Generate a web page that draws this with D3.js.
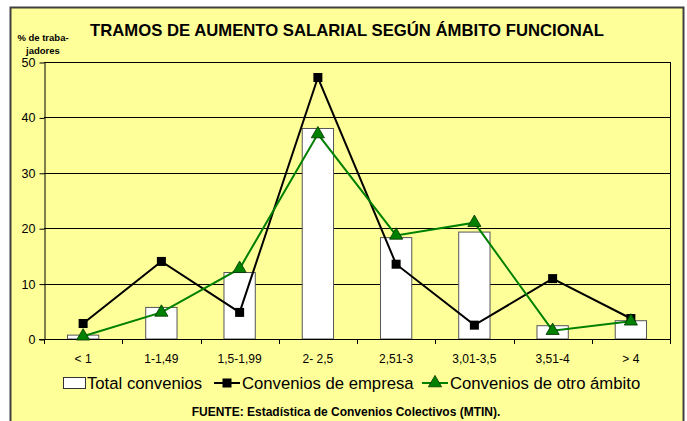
<!DOCTYPE html>
<html>
<head>
<meta charset="utf-8">
<script src="https://cdn.jsdelivr.net/npm/d3@7"></script>
<style>
  body { margin: 0; background: #fff; }
  svg { font-family: "Liberation Sans", Arial, sans-serif; }
  .narrow { font-family: "Liberation Sans Narrow", "Arial Narrow", "Liberation Sans", sans-serif; }
</style>
</head>
<body>
<svg width="687" height="421"></svg>
<script>
// data
var categories = ['< 1', '1-1,49', '1,5-1,99', '2- 2,5', '2,51-3', '3,01-3,5', '3,51-4', '> 4']
var totalConvenios = [0.7, 5.7, 12.0, 38.0, 18.3, 19.3, 2.4, 3.3]
var conveniosEmpresa = [2.8, 14.0, 4.8, 47.2, 13.5, 2.5, 10.9, 3.7]
var conveniosOtro = [0.5, 4.8, 12.7, 37.0, 18.7, 21.0, 1.5, 3.2]
var yTicks = [0, 10, 20, 30, 40, 50]
var seriesNames = ['Total convenios', 'Convenios de empresa', 'Convenios de otro ámbito']

var svg = d3.select('svg')
var plotLeft = 44, plotRight = 670, plotTop = 62, plotBottom = 339

// outer frame
svg.append('rect')
    .attr('x', 10.5).attr('y', 7.5)
    .attr('width', 673).attr('height', 430)
    .attr('fill', '#ffff99')
    .attr('stroke', '#404040')
    .attr('stroke-width', 2)

var xScale = d3.scaleBand()
    .domain(categories)
    .range([plotLeft, plotRight])

var yScale = d3.scaleLinear()
    .domain([0, 50])
    .range([plotBottom, plotTop])

// gridlines
svg.append('g')
    .selectAll('line')
    .data(yTicks.slice(1))
    .enter()
    .append('line')
        .attr('x1', plotLeft).attr('x2', plotRight)
        .attr('y1', d => Math.round(yScale(d)) + 0.5)
        .attr('y2', d => Math.round(yScale(d)) + 0.5)
        .attr('stroke', '#000')

// right border of plot
svg.append('line')
    .attr('x1', plotRight + 0.5).attr('x2', plotRight + 0.5)
    .attr('y1', plotTop).attr('y2', plotBottom)
    .attr('stroke', '#000')

// bars
var barW = xScale.bandwidth() * 0.4
svg.append('g')
    .selectAll('rect')
    .data(totalConvenios)
    .enter()
    .append('rect')
        .attr('x', (d, i) => xScale(categories[i]) + (xScale.bandwidth() - barW) / 2)
        .attr('y', d => yScale(d))
        .attr('width', barW)
        .attr('height', d => plotBottom - yScale(d))
        .attr('fill', '#fff')
        .attr('stroke', '#555')
        .attr('stroke-width', 1)

// y axis
var yAxis = d3.axisLeft(yScale)
    .tickValues(yTicks)
    .tickSize(5)
    .tickSizeOuter(0)
    .tickPadding(4)

var yG = svg.append('g')
    .attr('transform', 'translate(' + (plotLeft + 0.5) + ',0.5)')
    .call(yAxis)
yG.selectAll('text')
    .attr('font-size', '12.5px')
    .attr('font-family', '"Liberation Sans", Arial, sans-serif')
    .attr('fill', '#000')
yG.select('.domain').attr('stroke', '#000')

// x axis line and boundary ticks
svg.append('line')
    .attr('x1', plotLeft - 5).attr('x2', plotRight)
    .attr('y1', plotBottom + 0.5).attr('y2', plotBottom + 0.5)
    .attr('stroke', '#000')

var boundaries = categories.map(c => xScale(c)).concat([plotRight])
svg.append('g')
    .selectAll('line')
    .data(boundaries)
    .enter()
    .append('line')
        .attr('x1', d => Math.round(d) + 0.5).attr('x2', d => Math.round(d) + 0.5)
        .attr('y1', plotBottom).attr('y2', plotBottom + 5)
        .attr('stroke', '#000')

svg.append('g')
    .selectAll('text')
    .data(categories)
    .enter()
    .append('text')
        .classed('narrow', true)
        .attr('x', d => xScale(d) + xScale.bandwidth() / 2)
        .attr('y', 363)
        .attr('text-anchor', 'middle')
        .attr('font-size', '12px')
        .text(d => d)

// lines
var line = d3.line()
    .x((d, i) => xScale(categories[i]) + xScale.bandwidth() / 2)
    .y(d => yScale(d))

svg.append('path')
    .datum(conveniosEmpresa)
    .attr('d', line)
    .attr('fill', 'none')
    .attr('stroke', '#000')
    .attr('stroke-width', 2)

svg.append('path')
    .datum(conveniosOtro)
    .attr('d', line)
    .attr('fill', 'none')
    .attr('stroke', '#008000')
    .attr('stroke-width', 2)

var tri = d3.symbol().type(d3.symbolTriangle).size(75)

svg.append('g')
    .selectAll('rect')
    .data(conveniosEmpresa)
    .enter()
    .append('rect')
        .attr('x', (d, i) => xScale(categories[i]) + xScale.bandwidth() / 2 - 4.5)
        .attr('y', d => yScale(d) - 4.5)
        .attr('width', 9).attr('height', 9)
        .attr('fill', '#000')

svg.append('g')
    .selectAll('path')
    .data(conveniosOtro)
    .enter()
    .append('path')
        .attr('d', tri)
        .attr('transform', (d, i) => 'translate(' + (xScale(categories[i]) + xScale.bandwidth() / 2) + ',' + yScale(d) + ')')
        .attr('fill', '#008000')
        .attr('stroke', '#003300')
        .attr('stroke-width', 0.8)

// title
svg.append('text')
    .text('TRAMOS DE AUMENTO SALARIAL SEGÚN ÁMBITO FUNCIONAL')
    .attr('x', 347).attr('y', 36)
    .attr('text-anchor', 'middle')
    .attr('font-weight', 'bold')
    .attr('font-size', '16.7px')

// y label
svg.append('text')
    .attr('text-anchor', 'middle')
    .attr('font-weight', 'bold')
    .attr('font-size', '9.5px')
    .selectAll('tspan')
    .data(['% de traba-', 'jadores'])
    .enter()
    .append('tspan')
        .attr('x', 43)
        .attr('y', (d, i) => 41 + i * 12.5)
        .text(d => d)

// legend
var lg = svg.append('g').attr('font-size', '16.7px')
var legY = 383
lg.append('rect')
    .attr('x', 63.5).attr('y', legY - 5.5)
    .attr('width', 22).attr('height', 11)
    .attr('fill', '#fff').attr('stroke', '#333')
lg.append('text').attr('x', 87).attr('y', legY + 6).text(seriesNames[0])

lg.append('line')
    .attr('x1', 214).attr('x2', 240).attr('y1', legY).attr('y2', legY)
    .attr('stroke', '#000').attr('stroke-width', 2)
lg.append('rect')
    .attr('x', 222.5).attr('y', legY - 4.5).attr('width', 9).attr('height', 9)
    .attr('fill', '#000')
lg.append('text').attr('x', 242).attr('y', legY + 6).text(seriesNames[1])

lg.append('line')
    .attr('x1', 422).attr('x2', 448).attr('y1', legY).attr('y2', legY)
    .attr('stroke', '#008000').attr('stroke-width', 2)
lg.append('path')
    .attr('d', tri)
    .attr('transform', 'translate(435,' + legY + ')')
    .attr('fill', '#008000').attr('stroke', '#003300').attr('stroke-width', 0.8)
lg.append('text').attr('x', 450).attr('y', legY + 6).text(seriesNames[2])

// source
svg.append('text')
    .classed('narrow', true)
    .text('FUENTE: Estadística de Convenios Colectivos (MTIN).')
    .attr('x', 346).attr('y', 416)
    .attr('text-anchor', 'middle')
    .attr('font-weight', 'bold')
    .attr('font-size', '12px')
</script>
</body>
</html>
